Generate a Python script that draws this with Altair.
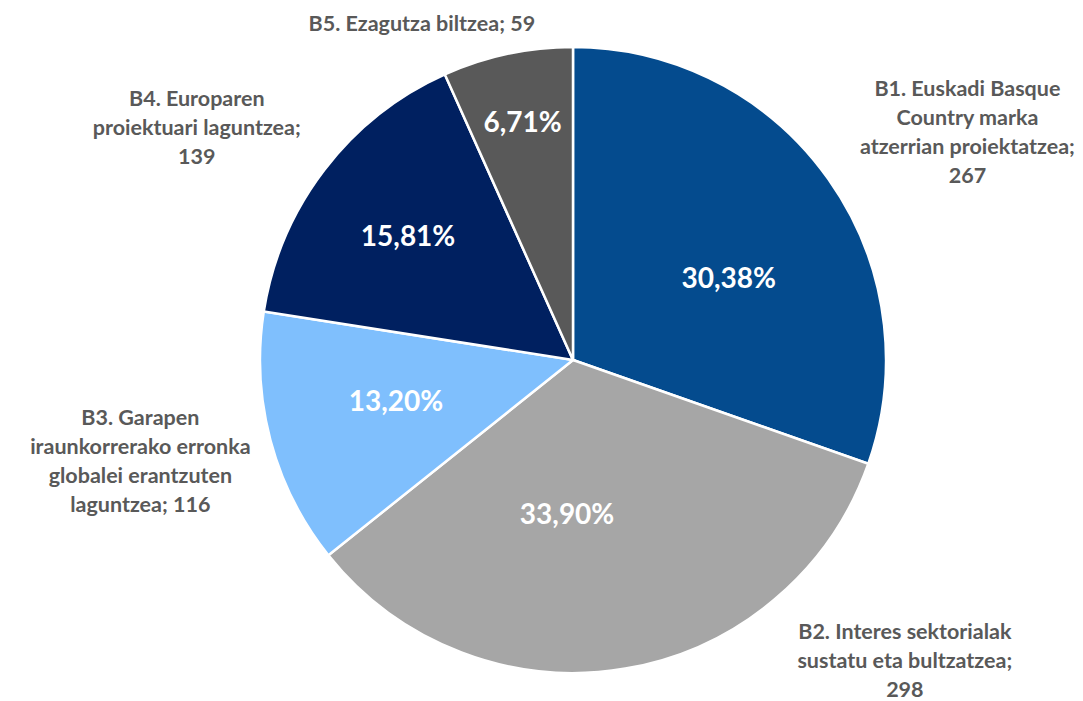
import altair as alt
import pandas as pd
import math

categories = ["B1", "B2", "B3", "B4", "B5"]
values = [267, 298, 116, 139, 59]
pct_labels = ["30,38%", "33,90%", "13,20%", "15,81%", "6,71%"]
outer_labels = [
    "B1. Euskadi Basque\nCountry marka\natzerrian proiektatzea;\n267",
    "B2. Interes sektorialak\nsustatu eta bultzatzea;\n298",
    "B3. Garapen\niraunkorrerako erronka\nglobalei erantzuten\nlaguntzea; 116",
    "B4. Europaren\nproiektuari laguntzea;\n139",
    "B5. Ezagutza biltzea; 59",
]
colors = ["#044B8E", "#A6A6A6", "#7FBFFD", "#002060", "#595959"]

df = pd.DataFrame({"cat": categories, "value": values,
                   "pct": pct_labels, "label": outer_labels})

CX, CY = 565, 352  # pie centre within plot area
R = 313
FONT = "Lato"
LH = 29

theta_scale = alt.Scale(domain=[0, 1], range=[0, 2 * math.pi])

base = alt.Chart(df).transform_window(
    cum="sum(value)", sort=[alt.SortField("cat", order="ascending")], frame=[None, 0]
).transform_joinaggregate(
    total="sum(value)"
).transform_calculate(
    t0="(datum.cum - datum.value) / datum.total",
    t1="datum.cum / datum.total",
    tm="(datum.cum - datum.value / 2) / datum.total",
).encode(x=alt.value(CX), y=alt.value(CY))

pie = base.mark_arc(outerRadius=R, stroke="white", strokeWidth=2.5).encode(
    theta=alt.Theta("t0:Q", scale=theta_scale),
    theta2="t1:Q",
    color=alt.Color("cat:N", scale=alt.Scale(domain=categories, range=colors), legend=None),
)

# per-label placement (radius, dx, dy of block centre)
pct_pos = {"B1": (175, 13, 21), "B2": (156, -32, 2), "B3": (182, -1, -4),
           "B4": (205, -2, 2), "B5": (241, 0, 0)}
out_pos = {"B1": (340, 117, -30), "B2": (340, 275, -33), "B3": (340, -104, 15),
           "B4": (340, -106, -25), "B5": (340, -80, -3)}

layers = [pie]
for c, lab in zip(categories, outer_labels):
    sub = base.transform_filter(alt.datum.cat == c)
    r, dx, dy = pct_pos[c]
    layers.append(
        sub.mark_text(
            radius=r, dx=dx, dy=dy, font=FONT, fontSize=28, fontWeight="bold",
            color="white", align="center", baseline="middle"
        ).encode(theta=alt.Theta("tm:Q", scale=theta_scale), text="pct:N")
    )
    r, dx, dy = out_pos[c]
    nlines = lab.count("\n") + 1
    layers.append(
        sub.mark_text(
            radius=r, dx=dx, dy=dy - (nlines - 1) * LH / 2, font=FONT, fontSize=21.5,
            fontWeight="bold", color="#595959", align="center", baseline="middle",
            lineBreak="\n", lineHeight=LH
        ).encode(theta=alt.Theta("tm:Q", scale=theta_scale), text="label:N")
    )

chart = alt.layer(*layers).properties(
    width=1067, height=693, padding=0,
    autosize=alt.AutoSizeParams(type="none"),
).configure_view(stroke=None)

chart.save("out.html", embed_options={"renderer": "svg", "actions": False})
